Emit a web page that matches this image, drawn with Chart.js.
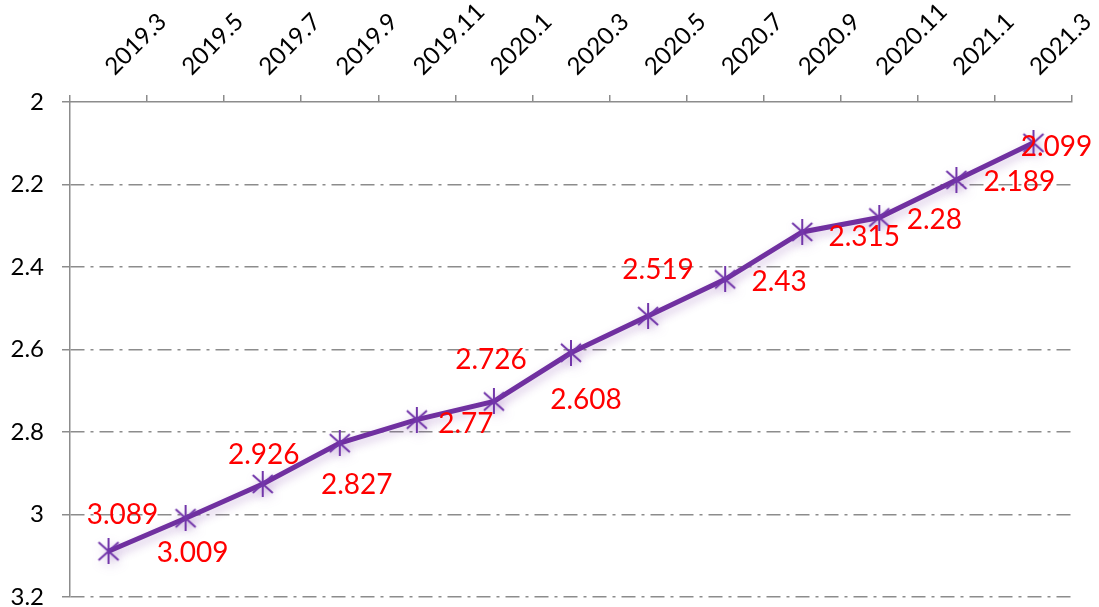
<!DOCTYPE html>
<html>
<head>
<meta charset="utf-8">
<script src="https://cdn.jsdelivr.net/npm/chart.js@4.4.0/dist/chart.umd.min.js"></script>
<style>
  html, body { margin: 0; padding: 0; background: #ffffff; }
  #wrap { width: 1099px; height: 607px; }
</style>
</head>
<body>
<div id="wrap"><canvas id="c" width="1099" height="607"></canvas></div>
<script>
// ---- data ----
const categories = ['2019.3','2019.5','2019.7','2019.9','2019.11','2020.1','2020.3','2020.5','2020.7','2020.9','2020.11','2021.1','2021.3'];
const seriesValues = [3.089, 3.009, 2.926, 2.827, 2.77, 2.726, 2.608, 2.519, 2.43, 2.315, 2.28, 2.189, 2.099];
const yTickValues = [2, 2.2, 2.4, 2.6, 2.8, 3, 3.2];
const yTickLabels = ['2', '2.2', '2.4', '2.6', '2.8', '3', '3.2'];

// ---- styling (label placement offsets, in px relative to each point) ----
const labelOffsets = [[14,-36],[7,35],[1,-29],[17,42],[49,4],[-3,-42],[15,47],[10,-46],[54,3],[62,5],[55,2],[63,2],[23,4]];

const FONT = 'Lato, "Open Sans", "DejaVu Sans", sans-serif';
const GRAY = '#8c8c8c';
const PURPLE = '#7030A0';

// asterisk marker (X + vertical bar)
function makeMarker() {
  const s = 26;
  const cv = document.createElement('canvas');
  cv.width = s; cv.height = s;
  const g = cv.getContext('2d');
  g.strokeStyle = '#7236AA';
  g.lineWidth = 2;
  g.lineCap = 'butt';
  g.beginPath();
  g.moveTo(3, 4); g.lineTo(23, 22);
  g.moveTo(23, 4); g.lineTo(3, 22);
  g.moveTo(13, 0); g.lineTo(13, 26);
  g.stroke();
  return cv;
}
const marker = makeMarker();

const shadowPlugin = {
  id: 'lineShadow',
  beforeDatasetsDraw(chart) {
    const ctx = chart.ctx;
    ctx.save();
    ctx.shadowColor = 'rgba(112,48,160,0.3)';
    ctx.shadowBlur = 10;
    ctx.shadowOffsetX = 2;
    ctx.shadowOffsetY = 4;
  },
  afterDatasetsDraw(chart) {
    chart.ctx.restore();
  }
};

const labelPlugin = {
  id: 'valueLabels',
  afterDatasetsDraw(chart) {
    const ctx = chart.ctx;
    const meta = chart.getDatasetMeta(0);
    ctx.save();
    ctx.font = '28px ' + FONT;
    ctx.fillStyle = '#FF0000';
    ctx.textAlign = 'center';
    ctx.textBaseline = 'middle';
    meta.data.forEach((pt, i) => {
      const off = labelOffsets[i] || [0, 0];
      ctx.fillText(String(seriesValues[i]), pt.x + off[0], pt.y + off[1]);
    });
    ctx.restore();
  }
};

new Chart(document.getElementById('c'), {
  type: 'line',
  data: {
    labels: categories,
    datasets: [{
      data: seriesValues,
      borderColor: PURPLE,
      borderWidth: 5,
      tension: 0,
      pointStyle: marker,
      pointRadius: 13,
      pointHoverRadius: 13,
      fill: false,
      clip: false
    }]
  },
  options: {
    responsive: false,
    animation: false,
    devicePixelRatio: 1,
    layout: { autoPadding: false, padding: { left: 0, right: 27, top: 0, bottom: 10 } },
    plugins: {
      legend: { display: false },
      tooltip: { enabled: false }
    },
    scales: {
      x: {
        type: 'category',
        position: 'top',
        offset: true,
        grid: {
          offset: true,
          drawOnChartArea: false,
          drawTicks: true,
          tickLength: 7,
          color: GRAY,
          lineWidth: 1.5
        },
        border: { display: true, color: GRAY, width: 1.5 },
        ticks: {
          autoSkip: false,
          minRotation: 45,
          maxRotation: 45,
          padding: 14,
          labelOffset: 21,
          color: '#000000',
          font: { family: FONT, size: 24 }
        },
        afterFit(scale) { scale.height = 102; scale.paddingLeft = 0; scale.paddingRight = 0; }
      },
      y: {
        type: 'linear',
        reverse: true,
        min: 2,
        max: 3.2,
        afterBuildTicks(scale) {
          scale.ticks = yTickValues.map(v => ({ value: v }));
        },
        grid: {
          color: (c) => (c.tick && c.tick.value === 2) ? 'rgba(0,0,0,0)' : GRAY,
          lineWidth: 1.5,
          tickLength: 8,
          tickColor: GRAY,
          tickBorderDash: []
        },
        border: { display: true, color: GRAY, width: 1.5, dash: [14, 6, 3, 6] },
        ticks: {
          padding: 18,
          color: '#000000',
          font: { family: FONT, size: 24 },
          callback: (value, index) => yTickLabels[index]
        },
        afterFit(scale) { scale.width = 70; scale.paddingTop = 0; scale.paddingBottom = 0; }
      }
    }
  },
  plugins: [shadowPlugin, labelPlugin]
});
</script>
</body>
</html>
